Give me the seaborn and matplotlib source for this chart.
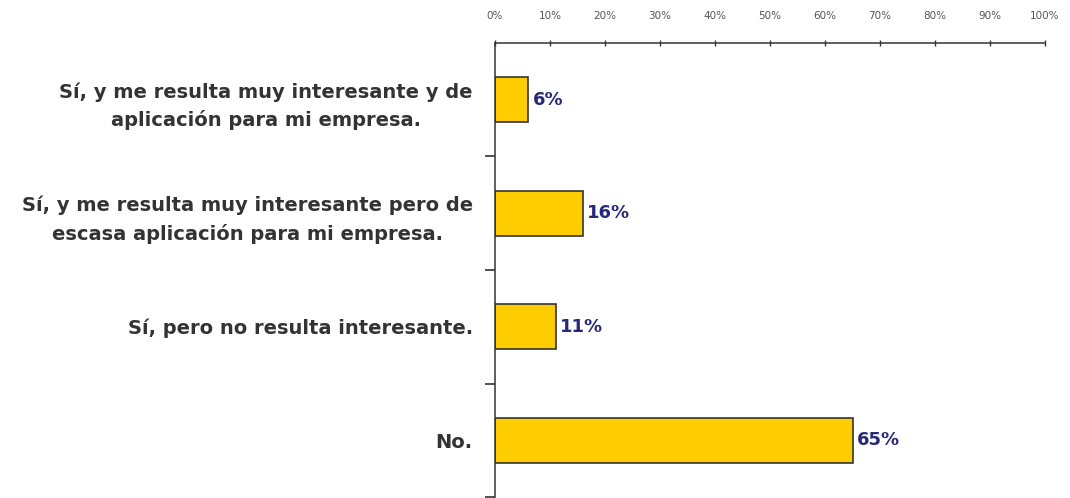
import matplotlib
matplotlib.use("Agg")
import matplotlib.pyplot as plt
import seaborn as sns
import pandas as pd
from matplotlib.ticker import FixedLocator, FuncFormatter

categories = [
    "Sí, y me resulta muy interesante y de\naplicación para mi empresa.",
    "Sí, y me resulta muy interesante pero de\nescasa aplicación para mi empresa.",
    "Sí, pero no resulta interesante.",
    "No.",
]
values = [6, 16, 11, 65]
x_ticks = [0, 10, 20, 30, 40, 50, 60, 70, 80, 90, 100]

sns.set_theme(style="white")
plt.rcParams["font.family"] = ["DejaVu Sans"]

df = pd.DataFrame({"respuesta": categories, "pct": values})

fig = plt.figure(figsize=(10.70, 4.98), dpi=100)
ax = fig.add_axes([495 / 1070, 1 / 498, 550 / 1070, 454 / 498])

sns.barplot(data=df, y="respuesta", x="pct", orient="h", ax=ax,
            color="#FFCC00", saturation=1, width=0.4,
            edgecolor="#333333", linewidth=1.2)

ax.set_xlim(0, 100)
ax.set_ylim(3.5, -0.5)
ax.set_xlabel("")
ax.set_ylabel("")

# percentage axis drawn along the top
ax.xaxis.tick_top()
ax.xaxis.set_major_locator(FixedLocator(x_ticks))
ax.xaxis.set_major_formatter(FuncFormatter(lambda v, p: f"{int(v)}%"))
ax.tick_params(axis="x", which="major", direction="inout", length=5,
               width=1, color="#333333", labelsize=7.5, labelcolor="#555555",
               pad=13)

# category labels with tick marks at the band boundaries
ax.yaxis.set_minor_locator(FixedLocator([0.5, 1.5, 2.5, 3.5]))
ax.tick_params(axis="y", which="major", length=0, pad=16, labelsize=14,
               labelcolor="#333333")
ax.tick_params(axis="y", which="minor", left=True, direction="out",
               length=7, width=1.2, color="#333333")
for lab in ax.get_yticklabels():
    lab.set_fontweight("bold")
    lab.set_multialignment("center")
    lab.set_linespacing(1.55)

for side in ["right", "bottom"]:
    ax.spines[side].set_visible(False)
for side in ["top", "left"]:
    ax.spines[side].set_color("#333333")
    ax.spines[side].set_linewidth(1.1)

for i, v in enumerate(values):
    ax.text(v + 0.8, i, f"{v}%", va="center", ha="left", fontsize=13,
            fontweight="bold", color="#26287A")

fig.savefig("out.png", dpi=100, facecolor="white")
